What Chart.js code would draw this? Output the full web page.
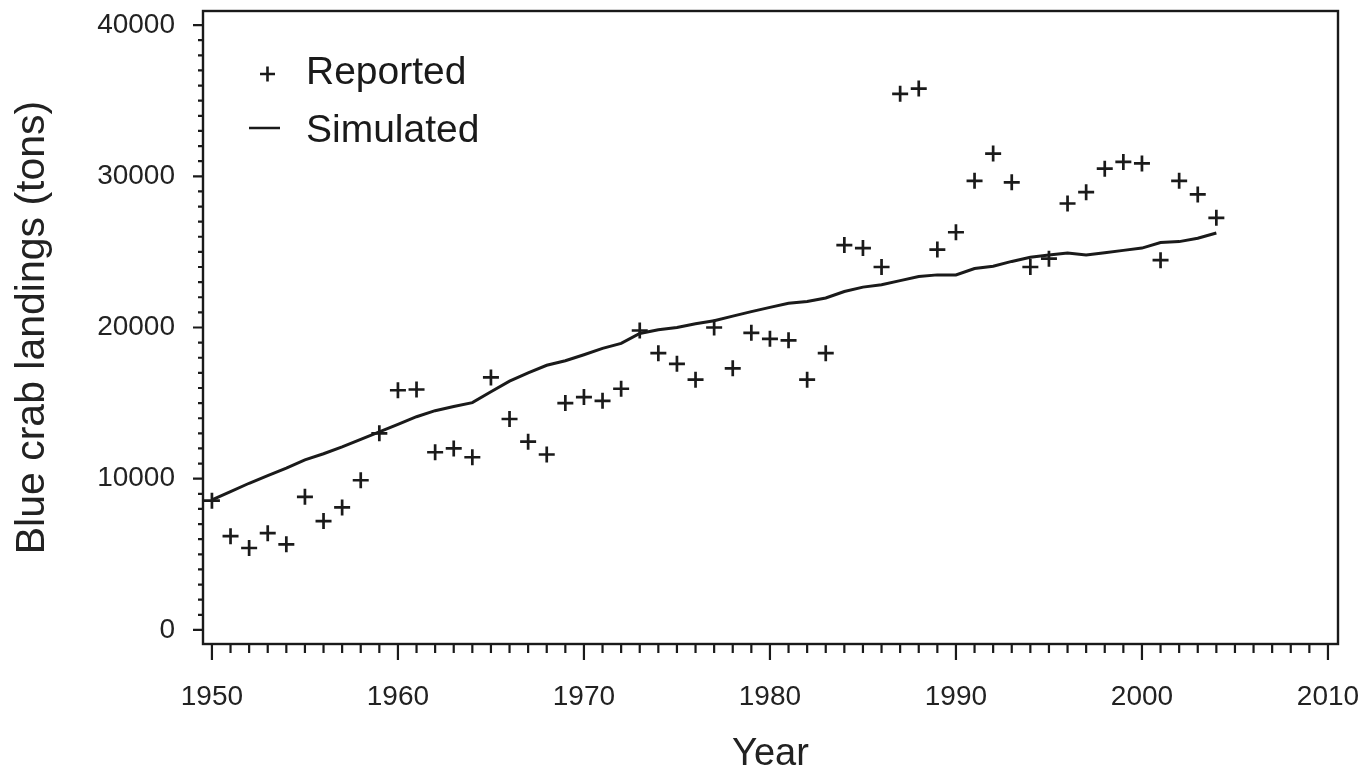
<!DOCTYPE html>
<html>
<head>
<meta charset="utf-8">
<script src="https://cdn.jsdelivr.net/npm/chart.js@4.4.1/dist/chart.umd.min.js"></script>
<style>
  body { margin: 0; background: #fff; }
  #wrap { width: 1371px; height: 776px; }
</style>
</head>
<body>
<div id="wrap"><canvas id="crabChart" width="1371" height="776"></canvas></div>
<script>
// Data
const years = [
  1950, 1951, 1952, 1953, 1954, 1955, 1956, 1957, 1958, 1959,
  1960, 1961, 1962, 1963, 1964, 1965, 1966, 1967, 1968, 1969,
  1970, 1971, 1972, 1973, 1974, 1975, 1976, 1977, 1978, 1979,
  1980, 1981, 1982, 1983, 1984, 1985, 1986, 1987, 1988, 1989,
  1990, 1991, 1992, 1993, 1994, 1995, 1996, 1997, 1998, 1999,
  2000, 2001, 2002, 2003, 2004
];
const reported = [
  8550, 6200, 5420, 6400, 5660, 8800, 7200, 8100, 9900, 13000,
  15850, 15900, 11750, 12000, 11420, 16700, 13950, 12450, 11600, 15000,
  15400, 15150, 15950, 19800, 18300, 17600, 16550, 20000, 17300, 19650,
  19250, 19150, 16550, 18300, 25450, 25250, 24000, 35450, 35800, 25150,
  26300, 29700, 31500, 29600, 24000, 24550, 28200, 28950, 30500, 30950,
  30850, 24450, 29700, 28800, 27250
];
const simulated = [
  8600, 9150, 9700, 10200, 10700, 11250, 11650, 12100, 12600, 13100,
  13600, 14100, 14500, 14770, 15030, 15750, 16450, 17000, 17500, 17800,
  18200, 18620, 18950, 19600, 19850, 20000, 20250, 20450, 20750, 21050,
  21330, 21600, 21720, 21950, 22380, 22670, 22830, 23100, 23370, 23480,
  23480, 23900, 24050, 24370, 24650, 24800, 24930, 24800, 24950, 25100,
  25250, 25620, 25680, 25900, 26250
];
const xTicks = [1950, 1960, 1970, 1980, 1990, 2000, 2010];
const yTicks = [0, 10000, 20000, 30000, 40000];

const ink = "#1a1a1a";
const fontFamily = "'Liberation Sans', Arial, Helvetica, sans-serif";

// box around the plot plus major/minor tick marks
const framePlugin = {
  id: "frame",
  afterDraw(chart) {
    const ctx = chart.ctx;
    const a = chart.chartArea;
    const xs = chart.scales.x;
    const ys = chart.scales.y;
    ctx.save();
    ctx.strokeStyle = ink;
    ctx.lineWidth = 2.4;
    ctx.strokeRect(a.left, a.top, a.right - a.left, a.bottom - a.top);

    ctx.lineWidth = 2.2;
    ctx.beginPath();
    for (let yr = xTicks[0]; yr <= xTicks[xTicks.length - 1]; yr++) {
      const px = xs.getPixelForValue(yr);
      const len = yr % 10 === 0 ? 16 : 9;
      ctx.moveTo(px, a.bottom);
      ctx.lineTo(px, a.bottom + len);
    }
    for (let v = yTicks[0]; v <= yTicks[yTicks.length - 1]; v += 1000) {
      const py = ys.getPixelForValue(v);
      const len = v % 10000 === 0 ? 10 : 5;
      ctx.moveTo(a.left, py);
      ctx.lineTo(a.left - len, py);
    }
    ctx.stroke();

    // legend inside the plot
    ctx.font = "39px " + fontFamily;
    ctx.fillStyle = ink;
    ctx.textBaseline = "alphabetic";
    ctx.fillText("Reported", 306, 84);
    ctx.fillText("Simulated", 306, 142);
    ctx.lineWidth = 2.6;
    ctx.beginPath();
    ctx.moveTo(260, 74); ctx.lineTo(275, 74);
    ctx.moveTo(267.5, 66.5); ctx.lineTo(267.5, 81.5);
    ctx.moveTo(249, 128); ctx.lineTo(280, 128);
    ctx.stroke();
    ctx.restore();
  }
};

new Chart(document.getElementById("crabChart"), {
  type: "scatter",
  data: {
    datasets: [
      {
        label: "Simulated",
        type: "line",
        data: years.map((yr, i) => ({ x: yr, y: simulated[i] })),
        borderColor: ink,
        borderWidth: 3,
        pointRadius: 0,
        tension: 0,
        fill: false
      },
      {
        label: "Reported",
        data: years.map((yr, i) => ({ x: yr, y: reported[i] })),
        pointStyle: "cross",
        pointRadius: 8,
        pointBorderWidth: 2.7,
        borderColor: ink,
        backgroundColor: ink
      }
    ]
  },
  options: {
    responsive: false,
    animation: false,
    devicePixelRatio: 1,
    layout: { padding: { top: 11, right: 33, left: 0, bottom: 0 } },
    plugins: { legend: { display: false }, tooltip: { enabled: false } },
    scales: {
      x: {
        type: "linear",
        min: 1949.52,
        max: 2010.54,
        afterBuildTicks: (s) => { s.ticks = xTicks.map(v => ({ value: v })); },
        afterFit: (s) => {
          s.height = 132;
          s.paddingLeft = 0;
          s.paddingRight = 0;
        },
        grid: { display: false, drawTicks: false },
        border: { display: false },
        ticks: {
          autoSkip: false,
          maxRotation: 0,
          padding: 36,
          color: "#222",
          font: { family: fontFamily, size: 28 },
          callback: (v) => String(v)
        },
        title: {
          display: true,
          text: "Year",
          color: "#222",
          font: { family: fontFamily, size: 38, lineHeight: 1 },
          padding: { top: 0, bottom: 2 }
        }
      },
      y: {
        min: -930,
        max: 40930,
        afterBuildTicks: (s) => { s.ticks = yTicks.map(v => ({ value: v })); },
        afterFit: (s) => {
          s.width = 203;
          s.paddingTop = 0;
          s.paddingBottom = 0;
        },
        grid: { display: false, drawTicks: false },
        border: { display: false },
        ticks: {
          autoSkip: false,
          padding: 28,
          color: "#222",
          font: { family: fontFamily, size: 28 },
          callback: (v) => String(v)
        },
        title: {
          display: true,
          text: "Blue crab landings (tons)",
          color: "#222",
          font: { family: fontFamily, size: 41, lineHeight: 1.2 },
          padding: { top: 8, bottom: 0 }
        }
      }
    }
  },
  plugins: [framePlugin]
});
</script>
</body>
</html>
